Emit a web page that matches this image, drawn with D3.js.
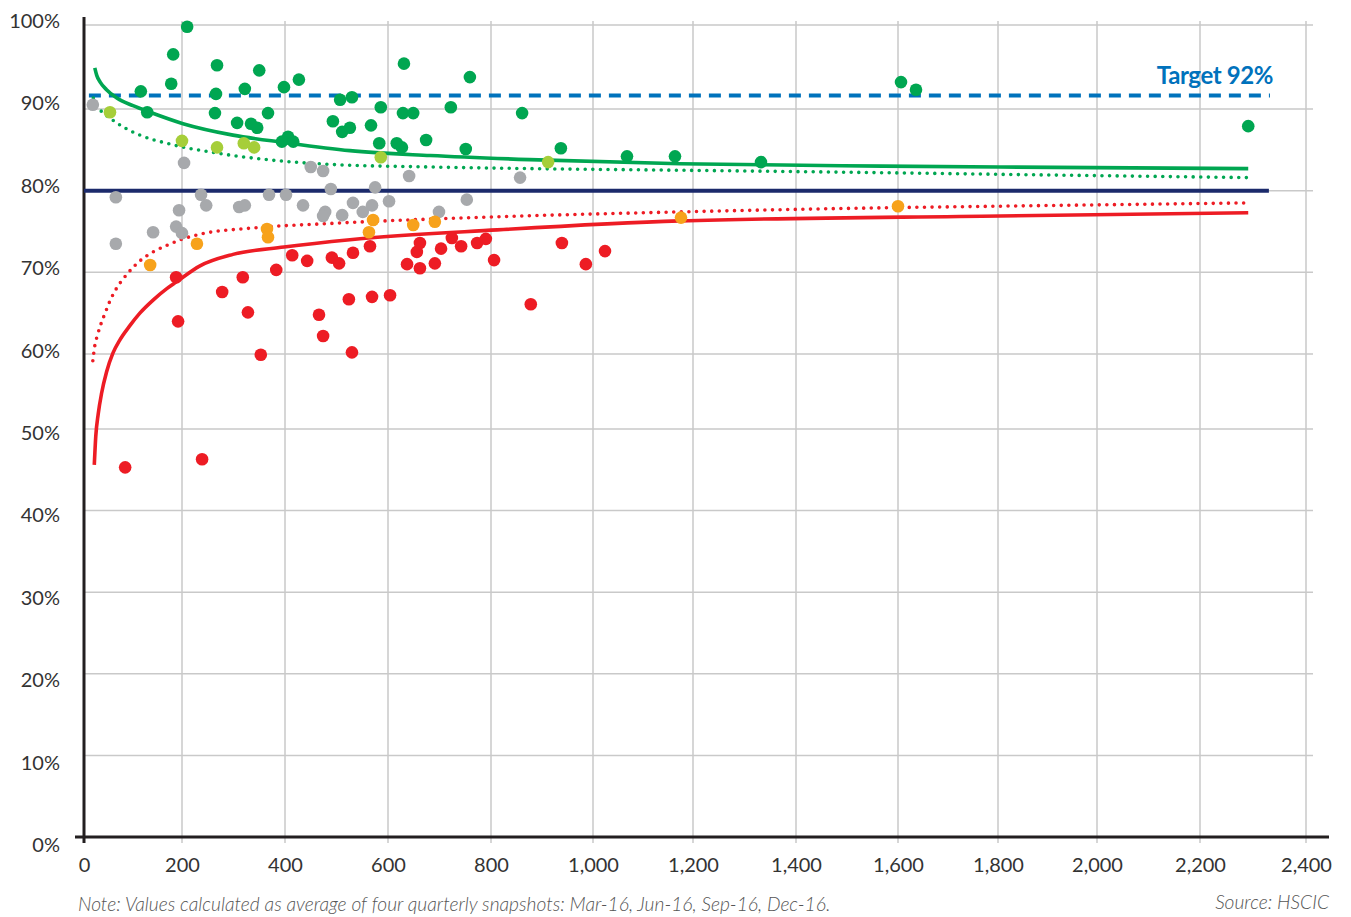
<!DOCTYPE html>
<html><head><meta charset="utf-8">
<script src="https://cdn.jsdelivr.net/npm/d3@7"></script>
<style>
html,body{margin:0;padding:0;background:#fff;}
text{font-family:Lato,"Open Sans",sans-serif;}
</style></head>
<body>
<svg id="chart" width="1351" height="917"></svg>
<script>
// ---- data (x: size, y: percent) ----
const xTicks = [0,200,400,600,800,1000,1200,1400,1600,1800,2000,2200,2400];
const yTicks = [0,10,20,30,40,50,60,70,80,90,100];

const greenPts = [[210,99.8],[182,96.5],[178,93.0],[116,92.1],[129,89.6],[268,95.2],[266,91.8],[264,89.5],[350,94.6],[322,92.4],[367,89.5],[307,88.3],[334,88.2],[346,87.7],[398,92.6],[427,93.5],[394,86.0],[406,86.6],[416,86.0],[507,91.1],[493,88.5],[511,87.2],[526,87.7],[530,91.4],[631,95.4],[759,93.8],[586,90.2],[567,88.0],[583,85.8],[617,85.8],[627,85.3],[629,89.5],[649,89.5],[722,90.2],[674,86.2],[751,85.1],[861,89.5],[937,85.2],[1068,84.2],[1164,84.2],[1332,83.5],[1606,93.2],[1636,92.3],[2291,87.9]];
const lightGreenPts = [[53,89.6],[200,86.1],[268,85.3],[320,85.8],[340,85.3],[586,84.1],[912,83.5]];
const grayPts = [[18,90.5],[204,83.4],[65,79.2],[237,79.5],[247,78.2],[194,77.6],[141,74.9],[188,75.6],[200,74.8],[65,73.5],[311,78.0],[322,78.2],[369,79.5],[402,79.5],[435,78.2],[450,82.9],[474,82.4],[489,80.2],[478,77.4],[474,76.9],[511,77.0],[532,78.5],[551,77.4],[569,78.2],[575,80.4],[602,78.7],[641,81.8],[699,77.4],[753,78.9],[857,81.6]];
const orangePts = [[135,70.9],[229,73.5],[365,75.3],[367,74.3],[571,76.4],[563,74.9],[649,75.8],[691,76.2],[1176,76.7],[1600,78.1]];
const redPts = [[188,69.4],[192,64.0],[84,45.3],[239,46.3],[278,67.6],[318,69.4],[328,65.1],[353,59.9],[383,70.3],[414,72.1],[443,71.4],[466,64.8],[474,62.2],[491,71.8],[505,71.1],[524,66.7],[530,60.2],[532,72.4],[565,73.2],[569,67.0],[604,67.2],[637,71.0],[656,72.5],[662,73.6],[662,70.5],[691,71.1],[703,72.9],[724,74.2],[742,73.2],[773,73.6],[790,74.1],[806,71.5],[878,66.1],[939,73.6],[986,71.0],[1024,72.6]];

// control-limit curves
const greenSolid = [[22,94.9],[26,94.0],[33,93.2],[46,92.3],[67,91.3],[100,90.4],[135,89.6],[202,88.2],[299,86.8],[398,85.9],[526,84.9],[682,84.3],[876,83.8],[1174,83.3],[1570,83.0],[1804,82.9],[2291,82.7]];
const greenDotted = [[19,91.3],[33,89.9],[53,88.9],[80,87.8],[114,86.8],[169,85.8],[268,84.6],[365,83.8],[493,83.2],[682,82.9],[876,82.7],[1174,82.5],[1570,82.2],[1804,82.0],[2291,81.6]];
const redDotted = [[18,59.1],[22,61.0],[27,62.2],[33,63.4],[43,65.0],[53,66.5],[67,68.1],[80,69.2],[100,70.6],[114,71.4],[141,72.5],[169,73.3],[202,74.1],[237,74.7],[332,75.4],[493,76.0],[812,76.8],[1174,77.4],[1570,77.9],[1804,78.1],[2291,78.5]];
const redSolid = [[21,45.6],[24,49.1],[29,52.0],[36,54.8],[46,57.6],[59,60.1],[73,61.7],[94,63.5],[114,65.0],[141,66.6],[169,68.0],[188,68.8],[235,70.8],[299,72.2],[398,73.1],[526,74.0],[812,75.2],[1174,76.3],[1804,76.9],[2291,77.3]];

const averageLine = [[0,80],[2330,80]];
const targetLine = [[10,91.6],[2332,91.6]];
const targetLabel = "Target 92%";
const noteText = "Note: Values calculated as average of four quarterly snapshots: Mar-16, Jun-16, Sep-16, Dec-16.";
const sourceText = "Source: HSCIC";

// ---- drawing ----
const svg = d3.select("#chart");
// the printed axes are slightly uneven; these stops follow the picture's gridlines
const x = d3.scaleLinear().domain(xTicks)
  .range([84,182,285,388,491,593,693,796,898,998,1097,1200,1306]);
const y = d3.scaleLinear().domain([0,50,60,90,100]).range([837,429,354,109,25]);
const yLab = d3.scaleLinear().domain([0,100]).range([845,21]);

const gridColor = "#c9c9c9";
svg.append("g").selectAll("line").data(xTicks.filter(d=>d>0)).join("line")
  .attr("x1",d=>x(d)).attr("x2",d=>x(d))
  .attr("y1",y(100)-4).attr("y2",y(0)+6)
  .attr("stroke",gridColor).attr("stroke-width",1.5);
svg.append("g").selectAll("line").data(yTicks.filter(d=>d>0)).join("line")
  .attr("x1",x(0)).attr("x2",x(2400)+7)
  .attr("y1",d=>y(d)).attr("y2",d=>y(d))
  .attr("stroke",gridColor).attr("stroke-width",1.5);

// axis lines
svg.append("line").attr("x1",x(0)).attr("x2",x(0)).attr("y1",17).attr("y2",y(0)+6)
  .attr("stroke","#231f20").attr("stroke-width",3);
svg.append("line").attr("x1",x(0)-9).attr("x2",1329).attr("y1",y(0)).attr("y2",y(0))
  .attr("stroke","#231f20").attr("stroke-width",3);

// tick labels
const ax = svg.append("g").attr("transform",`translate(0,${y(0)})`)
  .call(d3.axisBottom(x).tickValues(xTicks).tickFormat(d3.format(",")).tickSize(0).tickPadding(21));
ax.select(".domain").remove();
ax.selectAll("text").attr("font-family","Lato, sans-serif").attr("font-size",20).attr("fill","#333");

const ay = svg.append("g").attr("transform","translate(60,0)")
  .call(d3.axisLeft(yLab).tickValues(yTicks).tickFormat(d=>d+"%").tickSize(0).tickPadding(0));
ay.select(".domain").remove();
ay.selectAll("text").attr("font-family","Lato, sans-serif").attr("font-size",20).attr("fill","#333");

const line = d3.line().x(d=>x(d[0])).y(d=>y(d[1]));
const curve = d3.line().x(d=>x(d[0])).y(d=>y(d[1])).curve(d3.curveMonotoneX);

// reference lines
svg.append("path").datum(averageLine).attr("d",line).attr("fill","none")
  .attr("stroke","#1b2a6b").attr("stroke-width",4);
svg.append("path").datum(targetLine).attr("d",line).attr("fill","none")
  .attr("stroke","#0072bc").attr("stroke-width",4).attr("stroke-dasharray","12,8");
svg.append("text").attr("x",x(targetLine[1][0])+3).attr("y",y(targetLine[0][1])-12)
  .attr("text-anchor","end").attr("font-size",24).attr("font-weight",700)
  .attr("fill","#0072bc").attr("letter-spacing",-0.4).text(targetLabel);

// control-limit curves
const curves = [
  {d:greenSolid, c:"#00a651", dot:false},
  {d:greenDotted, c:"#00a651", dot:true},
  {d:redDotted, c:"#ed1c24", dot:true},
  {d:redSolid, c:"#ed1c24", dot:false}
];
curves.forEach(s=>{
  const p = svg.append("path").datum(s.d).attr("d",curve).attr("fill","none")
    .attr("stroke",s.c).attr("stroke-width",3.6);
  if(s.dot){ p.attr("stroke-dasharray","0,7.6").attr("stroke-linecap","round"); }
});

// points
const series = [
  {d:grayPts, c:"#a7a9ac"},
  {d:orangePts, c:"#f7a21b"},
  {d:redPts, c:"#ed1c24"},
  {d:lightGreenPts, c:"#a6ce39"},
  {d:greenPts, c:"#00a651"}
];
series.forEach(s=>{
  svg.append("g").selectAll("circle").data(s.d).join("circle")
    .attr("cx",d=>x(d[0])).attr("cy",d=>y(d[1])).attr("r",6.3).attr("fill",s.c);
});

// footer
svg.append("text").attr("x",78).attr("y",911).attr("font-size",19.2).attr("font-style","italic")
  .attr("font-weight",300).attr("fill","#555").text(noteText);
svg.append("text").attr("x",1329).attr("y",909).attr("text-anchor","end").attr("font-size",19.2)
  .attr("font-style","italic").attr("font-weight",300).attr("fill","#555").text(sourceText);
</script>
</body></html>
